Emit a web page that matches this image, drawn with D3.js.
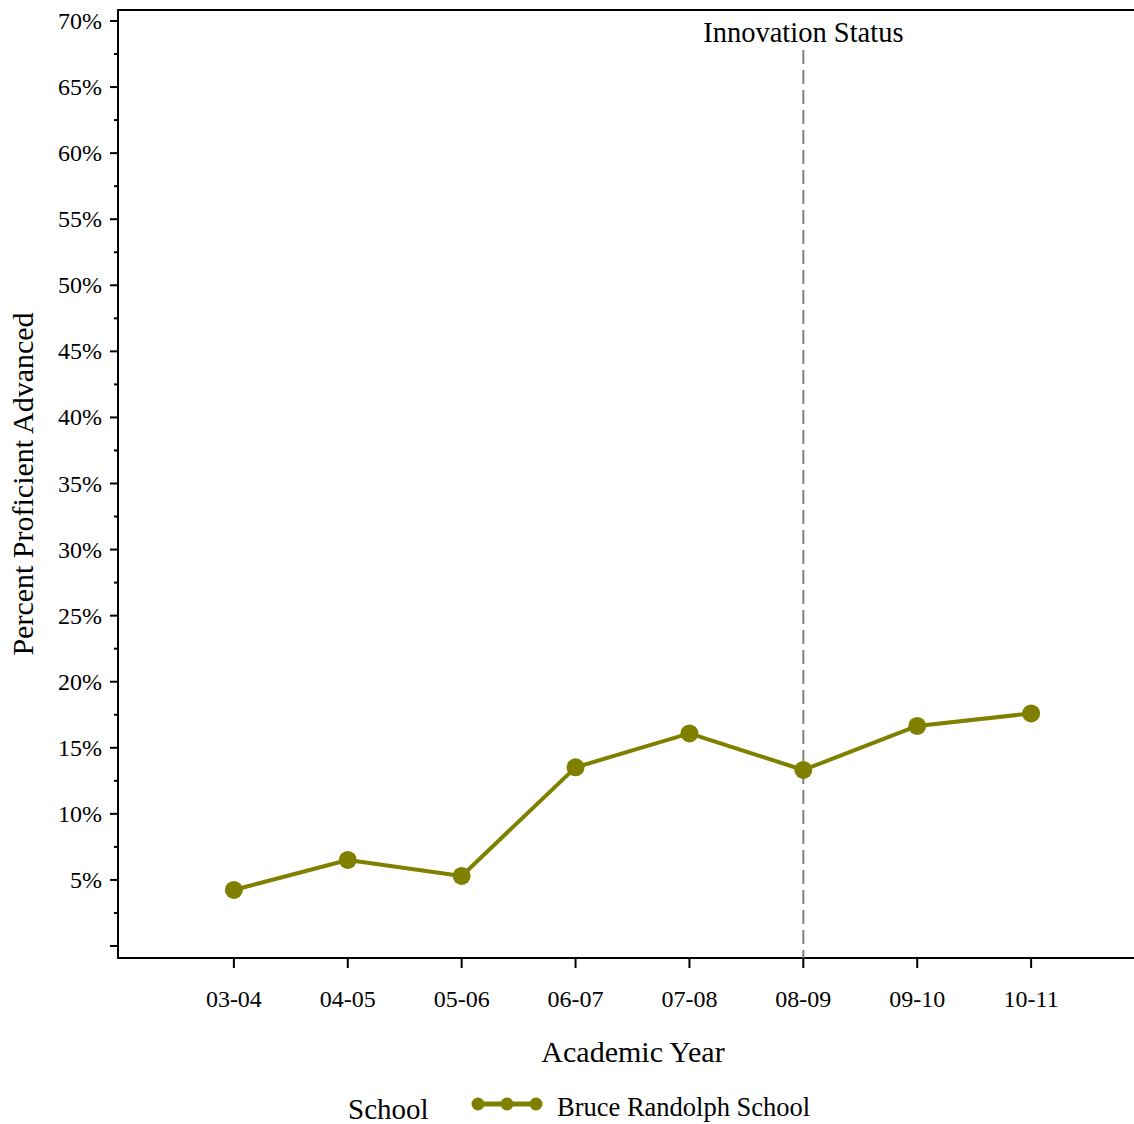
<!DOCTYPE html>
<html><head><meta charset="utf-8">
<script src="https://cdn.jsdelivr.net/npm/d3@7"></script>
<style>body{margin:0;background:#fff}svg{display:block}text{font-family:"Liberation Serif","Times New Roman",serif;fill:#000}</style>
</head><body>
<script>
const years = ["03-04","04-05","05-06","06-07","07-08","08-09","09-10","10-11"];
const values = [4.24, 6.51, 5.30, 13.52, 16.09, 13.32, 16.65, 17.60];
const yTickLabels = [5,10,15,20,25,30,35,40,45,50,55,60,65,70];
const seriesName = "Bruce Randolph School";
const markerYear = "08-09";

(function(){
const W = 1134, H = 1124;
const svg = d3.select("body").append("svg").attr("width", W).attr("height", H);
const pLeft = 118, pTop = 10, pBottom = 958;
const color = "#808000";

const x = d3.scalePoint().domain(years).range([120, 1145]).padding(1);
const y = d3.scaleLinear().domain([0, 70]).range([946, 21]);

// frame
svg.append("line").attr("x1", pLeft).attr("x2", W).attr("y1", pTop).attr("y2", pTop).attr("stroke", "#000").attr("stroke-width", 2);
svg.append("line").attr("x1", pLeft).attr("x2", W).attr("y1", pBottom).attr("y2", pBottom).attr("stroke", "#000").attr("stroke-width", 2);
svg.append("line").attr("x1", pLeft).attr("x2", pLeft).attr("y1", pTop - 1).attr("y2", pBottom + 1).attr("stroke", "#000").attr("stroke-width", 2);

// y axis ticks
const minor = d3.range(0, 71, 2.5);
const yg = svg.append("g");
minor.forEach(v => {
  const major = v % 5 === 0;
  yg.append("line").attr("x1", pLeft - (major ? 8 : 4)).attr("x2", pLeft).attr("y1", y(v)).attr("y2", y(v)).attr("stroke", "#000").attr("stroke-width", 2);
});
yTickLabels.forEach(v => {
  yg.append("text").attr("x", 102).attr("y", y(v) + 8).attr("text-anchor", "end").attr("font-size", 24).text(v + "%");
});

// x axis ticks
const xg = svg.append("g");
years.forEach(yr => {
  xg.append("line").attr("x1", x(yr)).attr("x2", x(yr)).attr("y1", pBottom).attr("y2", pBottom + 10).attr("stroke", "#000").attr("stroke-width", 2);
  xg.append("text").attr("x", x(yr)).attr("y", 1007).attr("text-anchor", "middle").attr("font-size", 24).text(yr);
});

// axis titles
svg.append("text").attr("x", 633).attr("y", 1062).attr("text-anchor", "middle").attr("font-size", 30).text("Academic Year");
svg.append("text").attr("transform", "translate(33,484) rotate(-90)").attr("text-anchor", "middle").attr("font-size", 30).text("Percent Proficient Advanced");

// reference line
svg.append("line").attr("x1", x(markerYear)).attr("x2", x(markerYear)).attr("y1", 50).attr("y2", pBottom)
  .attr("stroke", "#808080").attr("stroke-width", 2).attr("stroke-dasharray", "14,6");
svg.append("text").attr("x", x(markerYear)).attr("y", 42).attr("text-anchor", "middle").attr("font-size", 28.5).text("Innovation Status");

// line & points
const data = years.map((yr, i) => ({yr, v: values[i]}));
svg.append("path").datum(data)
  .attr("d", d3.line().x(d => x(d.yr)).y(d => y(d.v)))
  .attr("fill", "none").attr("stroke", color).attr("stroke-width", 4).attr("stroke-linejoin", "round");
svg.selectAll("circle.pt").data(data).enter().append("circle").attr("class", "pt")
  .attr("cx", d => x(d.yr)).attr("cy", d => y(d.v)).attr("r", 9).attr("fill", color);

// legend
svg.append("text").attr("x", 348).attr("y", 1119).attr("font-size", 29).text("School");
svg.append("line").attr("x1", 478).attr("x2", 536).attr("y1", 1104).attr("y2", 1104).attr("stroke", color).attr("stroke-width", 5);
[478, 507, 536].forEach(cx => svg.append("circle").attr("cx", cx).attr("cy", 1104).attr("r", 6.5).attr("fill", color));
svg.append("text").attr("x", 557).attr("y", 1116).attr("font-size", 26.5).text(seriesName);
})();
</script>
</body></html>
